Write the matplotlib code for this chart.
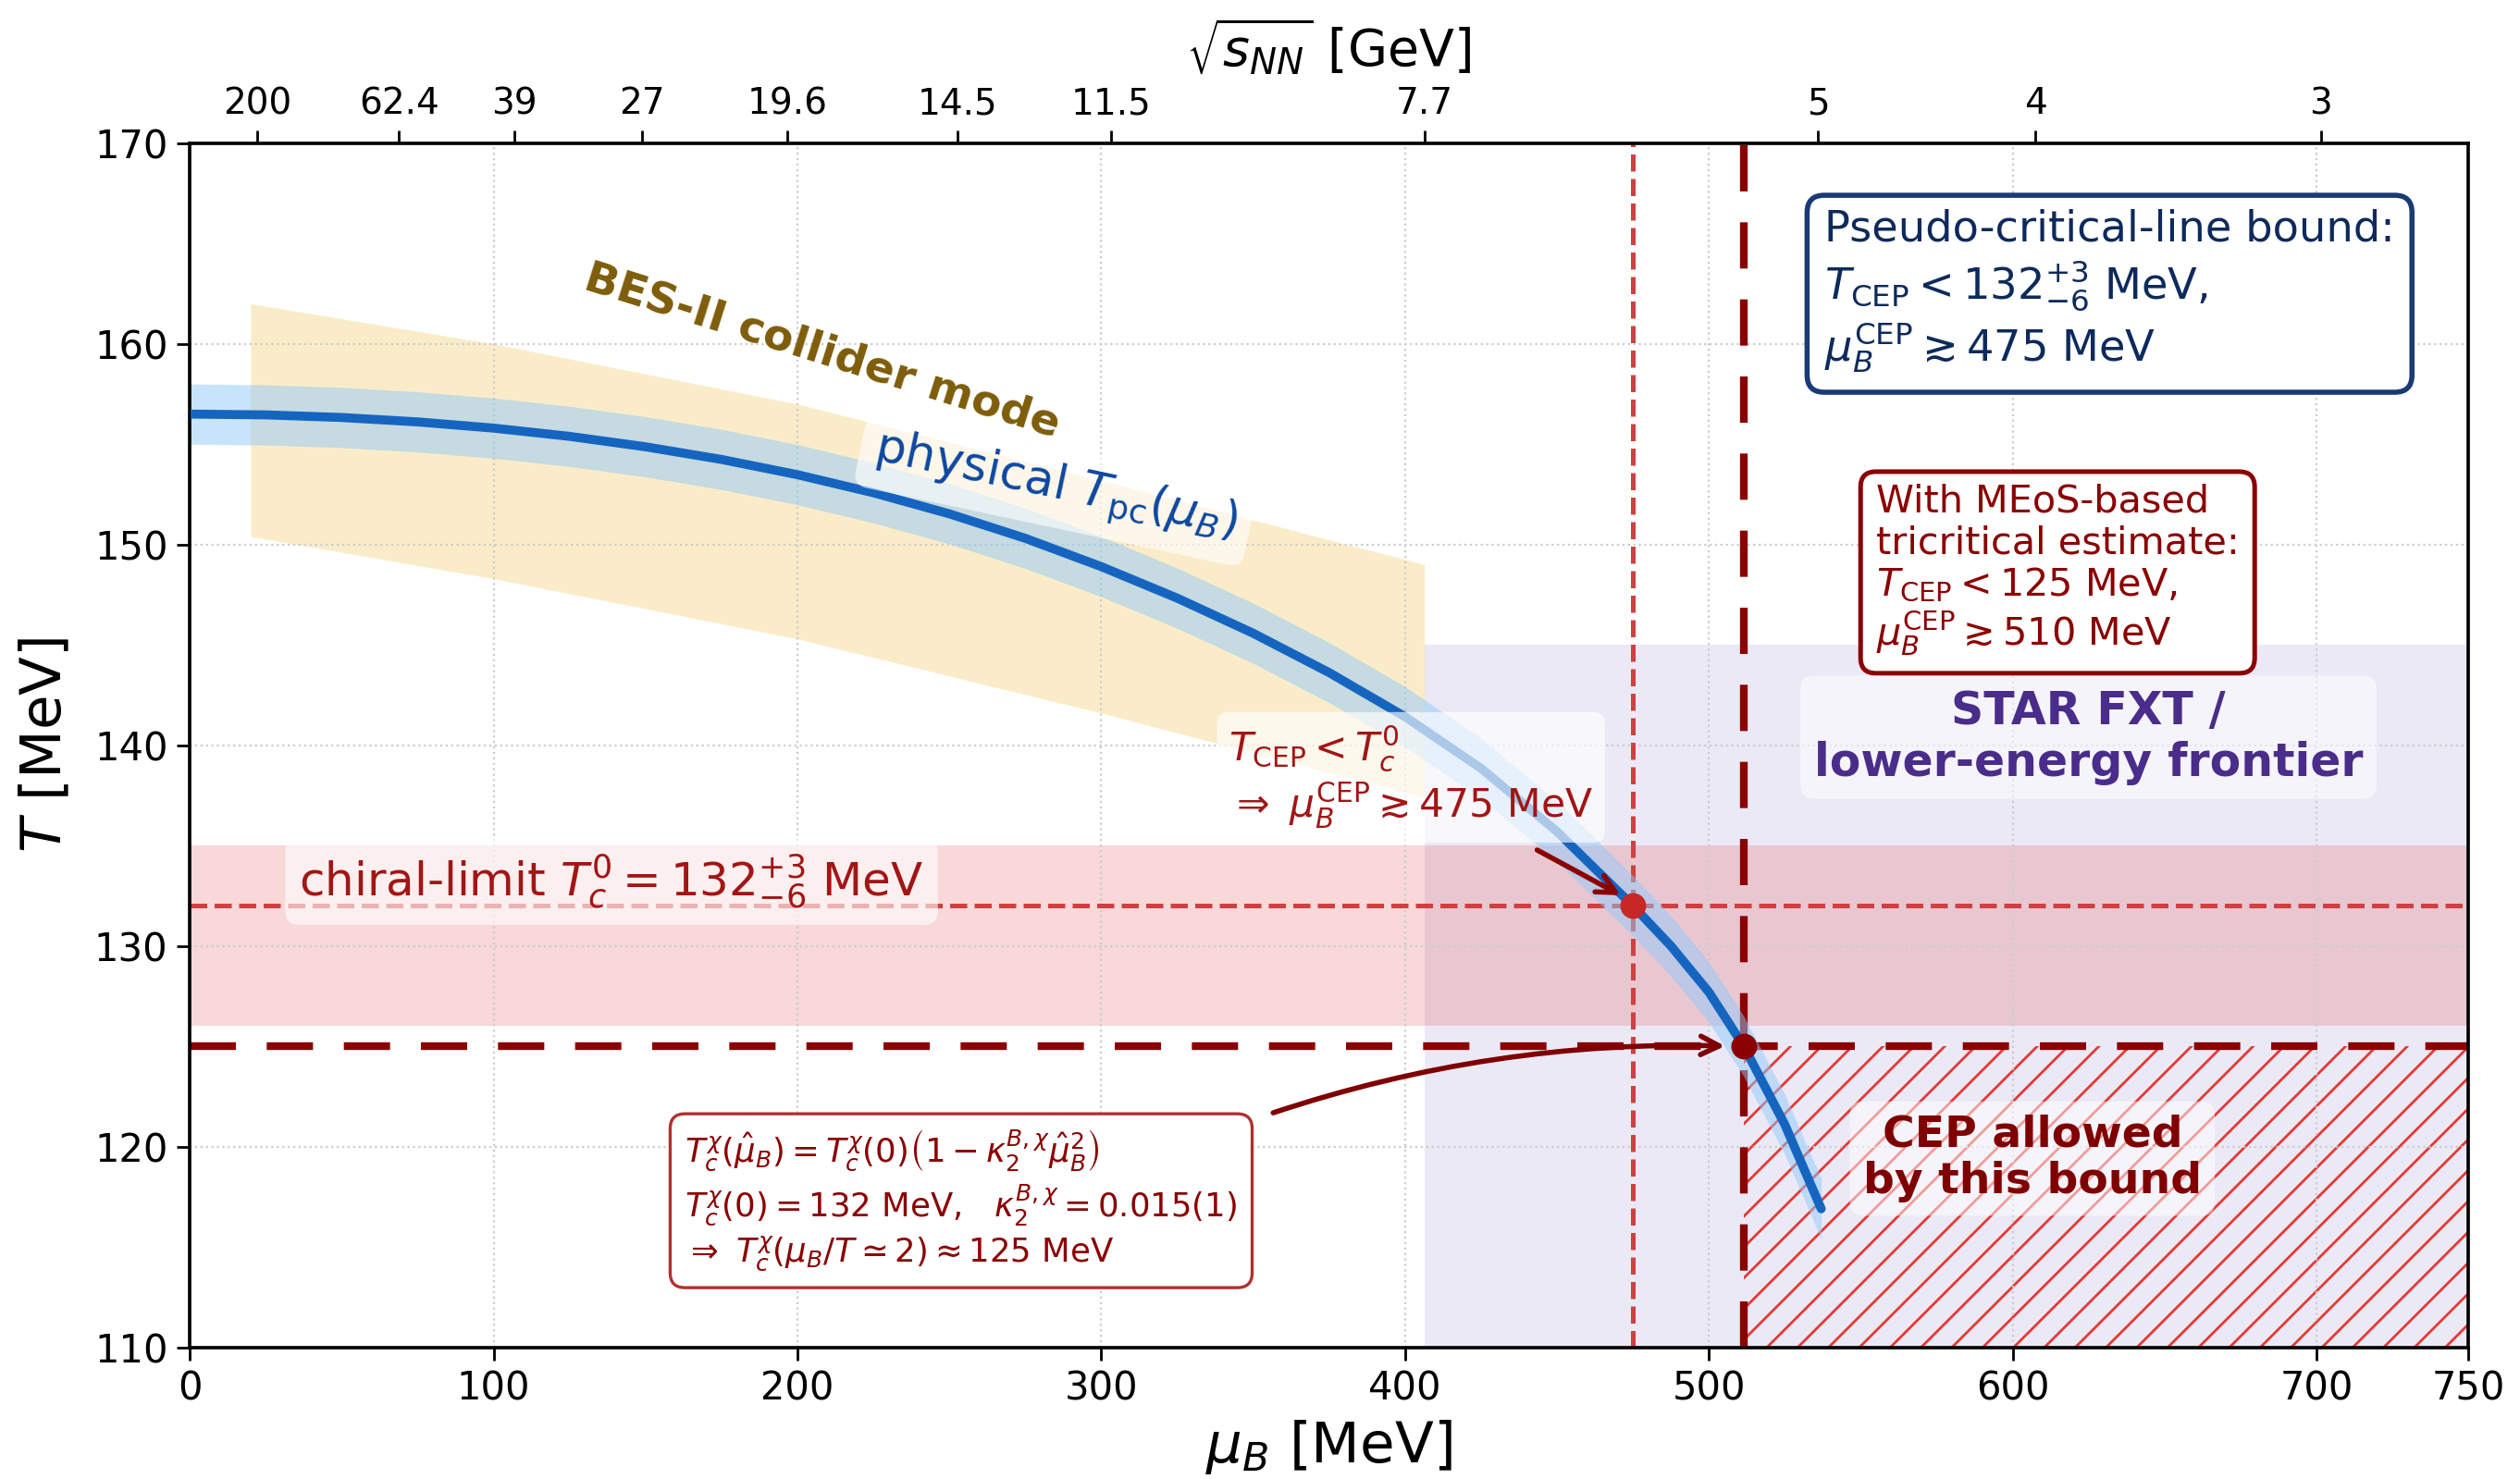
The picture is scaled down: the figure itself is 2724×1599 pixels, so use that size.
import numpy as np
import matplotlib.pyplot as plt

# physical pseudo-critical line T_pc(mu_B)
mu_pc = [0, 25, 50, 75, 100, 125, 150, 175, 200, 225, 250, 275, 300, 325,
         350, 375, 400, 425, 450, 475, 487.5, 500, 511.5, 525, 537]
T_pc = [156.5, 156.46, 156.33, 156.11, 155.80, 155.39, 154.87, 154.24, 153.48,
        152.58, 151.53, 150.31, 148.90, 147.33, 145.58, 143.62, 141.42, 138.85,
        135.70, 132.0, 130.0, 127.7, 125.0, 121.1, 116.9]
T_pc_err = 1.5

# BES-II collider band
mu_bes = [20, 100, 200, 300, 406.4]
T_bes_hi = [162.0, 160.0, 157.0, 153.2, 149.0]
T_bes_lo = [150.4, 148.3, 145.3, 141.6, 137.4]

# STAR FXT region
mu_fxt = [406.4, 750]
T_fxt = [110, 145]

# chiral-limit T_c^0 = 132 +3 -6
Tc0, Tc0_hi, Tc0_lo = 132.0, 135.0, 126.0
T_meos = 125.0
mu_cep_pc = 475.0
mu_cep_meos = 511.5

# top axis energies
sqrt_s = [200, 62.4, 39, 27, 19.6, 14.5, 11.5, 7.7, 5, 4, 3]
sqrt_s_labels = ["200", "62.4", "39", "27", "19.6", "14.5", "11.5", "7.7", "5", "4", "3"]


def mu_of_sqrt_s(s):
    # freeze-out parametrisation mu_B(sqrt(s_NN))
    return 1307.5 / (1 + 0.288 * s)


DARKRED = '#8b0000'
TXTRED = '#a31515'

fig = plt.figure(figsize=(13.62, 7.995), dpi=200)
ax = fig.add_axes([0.0753, 0.0891, 0.9042, 0.8141])

# background regions
ax.fill_between(mu_bes, T_bes_lo, T_bes_hi, color='#f2c14e', alpha=0.3, lw=0, zorder=1)
ax.fill_between(mu_fxt, T_fxt[0], T_fxt[1], color='#8070c8', alpha=0.15, lw=0, zorder=1)
ax.axhspan(Tc0_lo, Tc0_hi, color='#e05050', alpha=0.22, lw=0, zorder=1.1)
ax.fill_between([mu_cep_meos, 750], 110, T_meos, facecolor='none', hatch='//',
                edgecolor='#e53935', lw=0, zorder=1.2)

# reference lines
ax.axhline(Tc0, color='#d04040', ls='--', lw=1.8, zorder=1.6)
ax.axvline(mu_cep_pc, color='#d04040', ls='--', lw=1.8, zorder=1.6)
ax.axhline(T_meos, color=DARKRED, ls=(0, (6, 4)), lw=3, zorder=1.7)
ax.axvline(mu_cep_meos, color=DARKRED, ls=(0, (6, 4)), lw=3, zorder=1.7)

# pseudo-critical line with band
T_pc_arr = np.array(T_pc)
ax.fill_between(mu_pc, T_pc_arr - T_pc_err, T_pc_arr + T_pc_err, color='#90caf9',
                alpha=0.5, lw=0, zorder=2)
ax.plot(mu_pc, T_pc, color='#1565c0', lw=3.5, solid_capstyle='round',
        solid_joinstyle='round', zorder=3)

ax.plot([mu_cep_pc], [Tc0], 'o', color='#c62828', ms=9, zorder=5)
ax.plot([mu_cep_meos], [T_meos], 'o', color=DARKRED, ms=9, zorder=5)

# labels in the plot
ax.text(208, 159.6, "BES-II collider mode", color='#7d5d0a', fontsize=17, fontweight='bold',
        rotation=-17.5, ha='center', va='center', rotation_mode='anchor', zorder=6)
ax.text(285, 152.9, r"physical $T_{\rm pc}(\mu_B)$", color='#0d47a1', fontsize=18.5,
        rotation=-12, ha='center', va='center', rotation_mode='anchor', zorder=6,
        bbox=dict(boxstyle='round,pad=0.3', fc='white', ec='none', alpha=0.6))
ax.text(36, 133.2, r"chiral-limit $T_c^0 = 132^{+3}_{-6}$ MeV", color=TXTRED, fontsize=18,
        ha='left', va='center', zorder=6,
        bbox=dict(boxstyle='round,pad=0.3', fc='white', ec='none', alpha=0.6))
ax.text(342, 138.4, r"$T_{\rm CEP} < T_c^0$" + "\n" + r"$\Rightarrow\ \mu_B^{\rm CEP} \gtrsim 475$ MeV",
        color=TXTRED, fontsize=15.3, ha='left', va='center', zorder=6,
        bbox=dict(boxstyle='round,pad=0.3', fc='white', ec='none', alpha=0.65))
ax.annotate('', xy=(472.5, 132.4), xytext=(442, 134.9), zorder=6,
            arrowprops=dict(arrowstyle='->', color=DARKRED, lw=2, mutation_scale=18))

box_txt = (r"$T_c^{\chi}(\hat{\mu}_B) = T_c^{\chi}(0)\left(1 - \kappa_2^{B,\chi}\hat{\mu}_B^2\right)$" + "\n"
           + r"$T_c^{\chi}(0) = 132$ MeV,   $\kappa_2^{B,\chi} = 0.015(1)$" + "\n"
           + r"$\Rightarrow\ T_c^{\chi}(\mu_B/T \simeq 2) \approx 125$ MeV")
ax.text(163, 117.3, box_txt, color=DARKRED, fontsize=12.8, ha='left', va='center', zorder=6,
        linespacing=1.25,
        bbox=dict(boxstyle='round,pad=0.45', fc='white', ec='#b03030', lw=1.2))
ax.annotate('', xy=(507, 125.0), xytext=(355, 121.6), zorder=6,
            arrowprops=dict(arrowstyle='->', color='#7f0000', lw=2, mutation_scale=18,
                            connectionstyle='arc3,rad=-0.09'))

ax.text(538, 162.6, "Pseudo-critical-line bound:\n" + r"$T_{\rm CEP} < 132^{+3}_{-6}$ MeV," + "\n"
        + r"$\mu_B^{\rm CEP} \gtrsim 475$ MeV", color='#0d2a5c', fontsize=16.7,
        ha='left', va='center', zorder=6, linespacing=1.2,
        bbox=dict(boxstyle='round,pad=0.4', fc='white', ec='#1a3a75', lw=2))
ax.text(555, 148.7, "With MEoS-based\ntricritical estimate:\n" + r"$T_{\rm CEP} < 125$ MeV," + "\n"
        + r"$\mu_B^{\rm CEP} \gtrsim 510$ MeV", color=DARKRED, fontsize=14.9,
        ha='left', va='center', zorder=6, linespacing=1.15,
        bbox=dict(boxstyle='round,pad=0.4', fc='white', ec=DARKRED, lw=1.8))
ax.text(625, 140.4, "STAR FXT /\nlower-energy frontier", color='#4a2c8a', fontsize=17.6,
        fontweight='bold', ha='center', va='center', zorder=6,
        bbox=dict(boxstyle='round,pad=0.3', fc='white', ec='none', alpha=0.5))
ax.text(606.5, 119.4, "CEP allowed\nby this bound", color='#7f0000', fontsize=17,
        fontweight='bold', ha='center', va='center', zorder=6, linespacing=1.15,
        bbox=dict(boxstyle='round,pad=0.3', fc='white', ec='none', alpha=0.5))

# axes
ax.set_xlim(0, 750)
ax.set_ylim(110, 170)
ax.set_xticks([0, 100, 200, 300, 400, 500, 600, 700, 750])
ax.set_yticks(np.arange(110, 171, 10))
ax.tick_params(labelsize=15, length=5, width=1.0)
ax.grid(True, ls=':', color='#cccccc', lw=0.8)
ax.set_xlabel(r"$\mu_B$ [MeV]", fontsize=22, labelpad=4)
ax.set_ylabel(r"$T$ [MeV]", fontsize=22, labelpad=8)
for sp in ax.spines.values():
    sp.set_linewidth(1.3)

ax2 = ax.twiny()
ax2.set_xlim(ax.get_xlim())
ax2.set_xticks([mu_of_sqrt_s(s) for s in sqrt_s])
ax2.set_xticklabels(sqrt_s_labels)
ax2.tick_params(labelsize=14, length=5, width=1.0)
ax2.set_xlabel(r"$\sqrt{s_{NN}}$ [GeV]", fontsize=20, labelpad=8)

fig.savefig('out.png', dpi=200)
